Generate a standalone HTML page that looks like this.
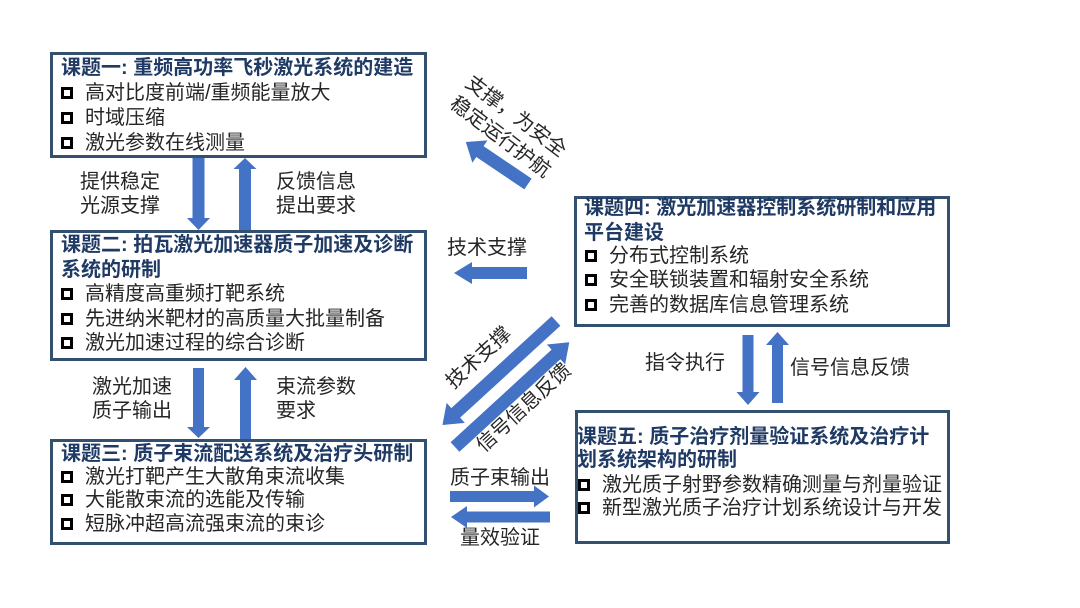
<!DOCTYPE html>
<html><head><meta charset="utf-8">
<style>
html,body{margin:0;padding:0;background:#fff;}
#c{position:relative;width:1080px;height:608px;overflow:hidden;background:#fff;font-family:"Liberation Sans","Noto Sans CJK SC",sans-serif;}
.box{position:absolute;box-sizing:border-box;border:3px solid #34506f;background:#fff;}
.t{position:absolute;font-size:20px;line-height:24px;white-space:nowrap;color:#262626;}
.h{position:absolute;font-size:20px;line-height:24px;white-space:nowrap;color:#1f3a64;font-weight:bold;}
.cb{position:absolute;width:12px;height:12px;box-sizing:border-box;border:3px solid #000;background:#fff;}
.r{position:absolute;font-size:20px;line-height:26px;white-space:nowrap;color:#262626;transform-origin:50% 50%;}
svg{position:absolute;left:0;top:0;}
</style></head><body>
<div id="c">
<!-- boxes -->
<div class="box" style="left:50px;top:52px;width:377px;height:106px;"></div>
<div class="box" style="left:50px;top:230px;width:377px;height:131px;"></div>
<div class="box" style="left:50px;top:439px;width:377px;height:106px;"></div>
<div class="box" style="left:574px;top:196px;width:376px;height:131px;"></div>
<div class="box" style="left:575px;top:410px;width:375px;height:134px;"></div>

<!-- Box 1 -->
<div class="h" style="left:61px;top:56px;">课题一: 重频高功率飞秒激光系统的建造</div>
<div class="cb" style="left:61px;top:87px;"></div><div class="t" style="left:85px;top:81px;">高对比度前端/重频能量放大</div>
<div class="cb" style="left:61px;top:112px;"></div><div class="t" style="left:85px;top:106px;">时域压缩</div>
<div class="cb" style="left:61px;top:137px;"></div><div class="t" style="left:85px;top:131px;">激光参数在线测量</div>

<!-- Box 2 -->
<div class="h" style="left:61px;top:233px;">课题二: 拍瓦激光加速器质子加速及诊断</div>
<div class="h" style="left:61px;top:258px;">系统的研制</div>
<div class="cb" style="left:61px;top:288px;"></div><div class="t" style="left:85px;top:282px;">高精度高重频打靶系统</div>
<div class="cb" style="left:61px;top:313px;"></div><div class="t" style="left:85px;top:307px;">先进纳米靶材的高质量大批量制备</div>
<div class="cb" style="left:61px;top:337px;"></div><div class="t" style="left:85px;top:331px;">激光加速过程的综合诊断</div>

<!-- Box 3 -->
<div class="h" style="left:61px;top:442px;">课题三: 质子束流配送系统及治疗头研制</div>
<div class="cb" style="left:61px;top:471px;"></div><div class="t" style="left:85px;top:465px;">激光打靶产生大散角束流收集</div>
<div class="cb" style="left:61px;top:494px;"></div><div class="t" style="left:85px;top:488px;">大能散束流的选能及传输</div>
<div class="cb" style="left:61px;top:518px;"></div><div class="t" style="left:85px;top:512px;">短脉冲超高流强束流的束诊</div>

<!-- Box 4 -->
<div class="h" style="left:584px;top:196px;">课题四: 激光加速器控制系统研制和应用</div>
<div class="h" style="left:584px;top:221px;">平台建设</div>
<div class="cb" style="left:585px;top:250px;"></div><div class="t" style="left:609px;top:244px;">分布式控制系统</div>
<div class="cb" style="left:585px;top:274px;"></div><div class="t" style="left:609px;top:268px;">安全联锁装置和辐射安全系统</div>
<div class="cb" style="left:585px;top:299px;"></div><div class="t" style="left:609px;top:293px;">完善的数据库信息管理系统</div>

<!-- Box 5 -->
<div class="h" style="left:577px;top:425px;">课题五: 质子治疗剂量验证系统及治疗计</div>
<div class="h" style="left:577px;top:448px;">划系统架构的研制</div>
<div class="cb" style="left:578px;top:479px;"></div><div class="t" style="left:602px;top:473px;">激光质子射野参数精确测量与剂量验证</div>
<div class="cb" style="left:578px;top:502px;"></div><div class="t" style="left:602px;top:496px;">新型激光质子治疗计划系统设计与开发</div>

<!-- labels -->
<div class="t" style="left:80px;top:170px;">提供稳定</div>
<div class="t" style="left:80px;top:194px;">光源支撑</div>
<div class="t" style="left:276px;top:170px;">反馈信息</div>
<div class="t" style="left:276px;top:194px;">提出要求</div>
<div class="t" style="left:92px;top:375px;">激光加速</div>
<div class="t" style="left:92px;top:399px;">质子输出</div>
<div class="t" style="left:276px;top:375px;">束流参数</div>
<div class="t" style="left:276px;top:399px;">要求</div>
<div class="t" style="left:447px;top:236px;">技术支撑</div>
<div class="t" style="left:645px;top:351px;">指令执行</div>
<div class="t" style="left:790px;top:356px;">信号信息反馈</div>
<div class="t" style="left:450px;top:466px;">质子束输出</div>
<div class="t" style="left:460px;top:526px;">量效验证</div>

<!-- rotated labels -->
<div class="r" style="left:448px;top:101px;width:120px;height:52px;transform:rotate(37deg);">支撑，为安全<br>稳定运行护航</div>
<div class="r" style="left:439px;top:345px;width:80px;height:26px;transform:rotate(-42.5deg);">技术支撑</div>
<div class="r" style="left:464px;top:395px;width:120px;height:26px;transform:rotate(-42.5deg);">信号信息反馈</div>

<svg width="1080" height="608" viewBox="0 0 1080 608">
<g fill="#4472c4">
<!-- box1-box2 -->
<polygon points="192.5,158 204.5,158 204.5,218 210,218 198.5,230 187,218 192.5,218"/>
<polygon points="239,230 251,230 251,169 256.5,169 245,158 233.5,169 239,169"/>
<!-- box2-box3 -->
<polygon points="193,368 204,368 204,427 210,427 198.5,438 187,427 193,427"/>
<polygon points="240,439 251,439 251,380 257,380 245.5,367 234,380 240,380"/>
<!-- box4-box5 -->
<polygon points="742.5,335 753.5,335 753.5,392 759.5,392 748,405 736.5,392 742.5,392"/>
<polygon points="772,403 783,403 783,345 789,345 777.5,332 766,345 772,345"/>
<!-- left arrow under 技术支撑 -->
<polygon points="527,267 527,279 472,279 472,284 454,273 472,262 472,267"/>
<!-- bottom arrows -->
<polygon points="450,491 534,491 534,485.5 549,496.5 534,507.5 534,502 450,502"/>
<polygon points="550,511.5 550,522.5 467,522.5 467,528 451,517 467,506 467,511.5"/>
<!-- diagonal arrows -->
<g transform="translate(528,184) rotate(214)"><polygon points="0,-6.5 58,-6.5 58,-13.5 75,0 58,13.5 58,6.5 0,6.5"/></g>
<g transform="translate(556,321) rotate(137.5)"><polygon points="0,-6.5 136,-6.5 136,-13.5 154,0 136,13.5 136,6.5 0,6.5"/></g>
<g transform="translate(455,447) rotate(-42.5)"><polygon points="0,-6.5 137,-6.5 137,-13.5 155,0 137,13.5 137,6.5 0,6.5"/></g>
</g>
</svg>
</div>
</body></html>
